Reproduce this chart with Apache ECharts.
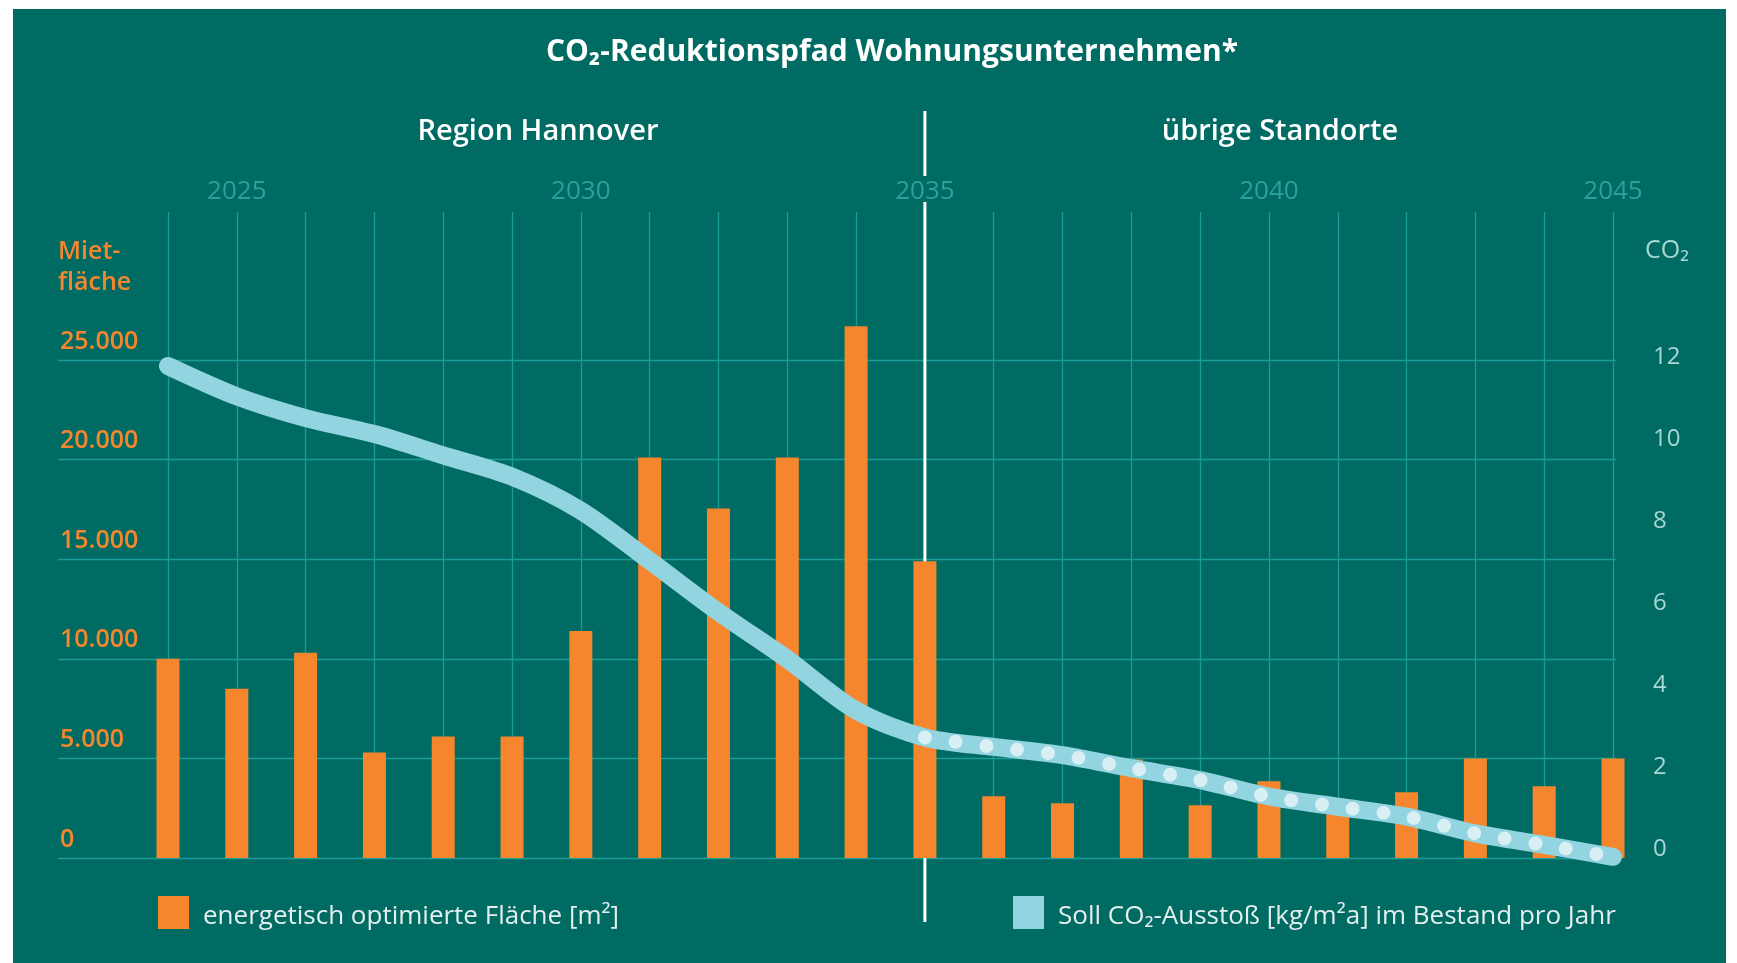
<!DOCTYPE html>
<html>
<head>
<meta charset="utf-8">
<title>CO2-Reduktionspfad Wohnungsunternehmen</title>
<script src="https://cdn.jsdelivr.net/npm/echarts@6/dist/echarts.min.js"></script>
<style>
  html, body { margin: 0; padding: 0; background: #fff; }
  #wrap { position: relative; width: 1737px; height: 963px; }
  #bg { position: absolute; left: 13px; top: 9px; width: 1713px; height: 954px; background: #006b63; }
  #chart { position: absolute; left: 0; top: 0; width: 1737px; height: 963px; }
</style>
</head>
<body>
<div id="wrap"><div id="bg"></div><div id="chart"></div></div>
<script>
// Daten
var years = ['2024', '2025', '2026', '2027', '2028', '2029', '2030', '2031', '2032', '2033', '2034',
  '2035', '2036', '2037', '2038', '2039', '2040', '2041', '2042', '2043', '2044', '2045']
var yearLabels = ['2025', '2030', '2035', '2040', '2045']
// energetisch optimierte Fläche [m²]
var flaeche = [10000, 8500, 10300, 5300, 6100, 6100, 11400, 20100, 17550, 20100, 26700,
  14900, 3100, 2750, 4950, 2650, 3850, 2200, 3300, 5000, 3600, 5000]
// Soll CO2-Ausstoß [kg/m²a]
var co2 = [12.0, 11.26, 10.73, 10.34, 9.82, 9.30, 8.47, 7.25, 6.0, 4.85, 3.6,
  2.94, 2.71, 2.51, 2.19, 1.90, 1.50, 1.25, 1.01, 0.60, 0.32, 0.03]
var dottedFrom = '2035'
var areaName = 'energetisch optimierte Fläche [m²]'
var co2Name = 'Soll CO₂-Ausstoß [kg/m²a] im Bestand pro Jahr'

var FONT = '"Open Sans", "Noto Sans", sans-serif'
var GRID = '#1c9c98'
var ORANGE = '#f5862d'
var BLUE = '#93d4e1'
var DOT = '#d8eff3'

// Layout (px)
var baseY = 858      // Nulllinie
var topArea = 360    // 25.000-Linie
var topCo2 = 366     // CO2 = 12
var topGrid = 212    // Oberkante Jahresraster
var areaMax = 25000 * (baseY - topGrid) / (baseY - topArea)
var co2Max = 12 * (baseY - topGrid) / (baseY - topCo2)

function deNum(v) {
  return String(v).replace(/\B(?=(\d{3})+(?!\d))/g, '.')
}

// Legendentext etwas tiefer als die Kästchenmitte
var legendText = {
  color: '#e3efee',
  fontSize: 26,
  rich: {
    s: { width: 9, height: 35, fontSize: 4 },
    t: { color: '#e3efee', fontSize: 26, lineHeight: 26, verticalAlign: 'bottom' }
  }
}
function legendFmt(name) {
  return '{s| }{t|' + name + '}'
}

var option = {
  animation: false,
  textStyle: { fontFamily: FONT },
  grid: [
    { left: 58, right: 121, top: topArea, bottom: 963 - baseY },
    { left: 168, right: 124, top: topGrid, bottom: 963 - baseY }
  ],
  xAxis: [
    { gridIndex: 0, type: 'value', show: false, min: 0, max: 1 },
    {
      gridIndex: 1,
      type: 'category',
      data: years,
      position: 'top',
      boundaryGap: false,
      axisLine: { show: false },
      axisTick: { show: false },
      axisLabel: {
        interval: function (i, v) { return yearLabels.indexOf(v) >= 0 },
        color: '#2ba19c',
        fontSize: 26,
        margin: 7
      },
      splitLine: { show: true, interval: 0, lineStyle: { color: GRID, width: 1.3 } }
    }
  ],
  yAxis: [
    {
      gridIndex: 0,
      type: 'value',
      position: 'left',
      min: 0,
      max: 25000,
      interval: 5000,
      name: 'Miet-\nfläche',
      nameLocation: 'end',
      nameGap: 62,
      nameTextStyle: {
        color: ORANGE, fontSize: 25, fontWeight: 600, lineHeight: 31,
        align: 'left', verticalAlign: 'bottom'
      },
      axisLine: { show: false },
      axisTick: { show: false },
      axisLabel: {
        inside: true,
        align: 'left',
        verticalAlign: 'bottom',
        margin: 2,
        padding: [0, 0, 6, 0],
        lineHeight: 25,
        fontSize: 25,
        fontWeight: 600,
        color: ORANGE,
        formatter: deNum
      },
      splitLine: { lineStyle: { color: GRID, width: 1.3 } }
    },
    { gridIndex: 1, type: 'value', show: false, min: 0, max: areaMax },
    {
      gridIndex: 1,
      type: 'value',
      position: 'right',
      min: 0,
      max: co2Max,
      interval: 2,
      axisLine: { show: false },
      axisTick: { show: false },
      splitLine: { show: false },
      axisLabel: {
        margin: 40,
        color: '#a8d6d2',
        fontSize: 24,
        verticalAlign: 'bottom',
        lineHeight: 18,
        formatter: function (v) { return v <= 12 ? String(v) : '' }
      }
    }
  ],
  legend: [
    {
      data: [{ name: areaName, icon: 'rect' }],
      left: 158, top: 896, padding: 0,
      itemWidth: 31, itemHeight: 33,
      selectedMode: false,
      itemStyle: { borderWidth: 0 },
      formatter: legendFmt,
      textStyle: legendText
    },
    {
      data: [{ name: co2Name, icon: 'rect', itemStyle: { color: BLUE } }],
      left: 1013, top: 896, padding: 0,
      itemWidth: 31, itemHeight: 33,
      selectedMode: false,
      itemStyle: { borderWidth: 0 },
      formatter: legendFmt,
      textStyle: legendText
    }
  ],
  series: [
    {
      name: areaName,
      type: 'bar',
      xAxisIndex: 1,
      yAxisIndex: 1,
      data: flaeche,
      barWidth: 23,
      clip: false,
      itemStyle: { color: ORANGE },
      z: 2
    },
    {
      name: co2Name,
      type: 'line',
      xAxisIndex: 1,
      yAxisIndex: 2,
      data: co2,
      smooth: 0.3,
      symbol: 'none',
      clip: false,
      itemStyle: { color: BLUE },
      lineStyle: { width: 18, color: BLUE, cap: 'round', join: 'round' },
      z: 3
    },
    {
      name: 'dots',
      type: 'line',
      xAxisIndex: 1,
      yAxisIndex: 2,
      data: co2.map(function (v, i) { return years[i] >= dottedFrom ? v : null }),
      smooth: 0.3,
      symbol: 'none',
      clip: false,
      lineStyle: { width: 14, color: DOT, type: [0, 31], cap: 'round' },
      z: 4
    }
  ]
}

var myChart = echarts.init(document.getElementById('chart'))
myChart.setOption(option)

// Trennlinie bei 2035 und Überschriften
var sepX = myChart.convertToPixel({ xAxisIndex: 1 }, dottedFrom)
myChart.setOption({
  graphic: [
    { type: 'line', z: 1, shape: { x1: sepX, y1: 111, x2: sepX, y2: 176 }, style: { stroke: '#fff', lineWidth: 3 } },
    { type: 'line', z: 1, shape: { x1: sepX, y1: 202, x2: sepX, y2: 922 }, style: { stroke: '#fff', lineWidth: 3 } },
    {
      type: 'text', x: 892, y: 52,
      style: { text: 'CO₂-Reduktionspfad Wohnungsunternehmen*', fill: '#fff', fontFamily: FONT,
        fontSize: 30, fontWeight: 'bold', align: 'center', verticalAlign: 'middle' }
    },
    {
      type: 'text', x: 538, y: 132,
      style: { text: 'Region Hannover', fill: '#fff', fontFamily: FONT,
        fontSize: 29, fontWeight: 600, align: 'center', verticalAlign: 'middle' }
    },
    {
      type: 'text', x: 1280, y: 132,
      style: { text: 'übrige Standorte', fill: '#fff', fontFamily: FONT,
        fontSize: 29, fontWeight: 600, align: 'center', verticalAlign: 'middle' }
    },
    {
      type: 'text', x: 1645, y: 251,
      style: { text: 'CO₂', fill: '#a8d6d2', fontFamily: FONT,
        fontSize: 25, align: 'left', verticalAlign: 'middle' }
    }
  ]
})
</script>
</body>
</html>
